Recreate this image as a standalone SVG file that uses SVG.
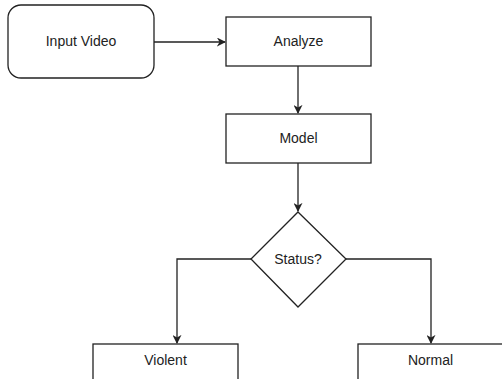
<svg xmlns="http://www.w3.org/2000/svg" width="502" height="379" viewBox="0 0 502 379">
<style>
.box{fill:#fff;stroke:#222;stroke-width:1.3}
.lbl{font-family:"Liberation Sans",Arial,sans-serif;font-size:14px;fill:#222;text-anchor:middle}
.edge{fill:none;stroke:#222;stroke-width:1.3}
</style>
<defs>
<marker id="arr" viewBox="0 0 10 10" refX="9" refY="5" markerWidth="9" markerHeight="9" markerUnits="userSpaceOnUse" orient="auto">
<path d="M0,0 L10,5 L0,10 L3,5 Z" fill="#222"/>
</marker>
</defs>
<rect width="502" height="379" fill="#fff"/>
<g id="connectors">
<path class="edge" d="M154,42 H225" marker-end="url(#arr)"/>
<path class="edge" d="M298,66 V113" marker-end="url(#arr)"/>
<path class="edge" d="M298,163 V211" marker-end="url(#arr)"/>
<path class="edge" d="M251,259 H177 V343" marker-end="url(#arr)"/>
<path class="edge" d="M346,259 H431 V343" marker-end="url(#arr)"/>
</g>
<g id="input-video">
<rect class="box" x="8" y="5" width="146" height="73" rx="13"/>
<text class="lbl" x="81" y="46">Input Video</text>
</g>
<g id="analyze">
<rect class="box" x="226" y="17" width="145" height="49"/>
<text class="lbl" x="298.5" y="46">Analyze</text>
</g>
<g id="model">
<rect class="box" x="226" y="114" width="145" height="49"/>
<text class="lbl" x="298.5" y="143">Model</text>
</g>
<g id="status">
<polygon class="box" points="298,212 346,259 298,307 251,259"/>
<text class="lbl" x="298" y="264">Status?</text>
</g>
<g id="violent">
<rect class="box" x="93" y="344" width="145" height="49"/>
<text class="lbl" x="165.5" y="365">Violent</text>
</g>
<g id="normal">
<rect class="box" x="358" y="344" width="145" height="49"/>
<text class="lbl" x="430.5" y="365">Normal</text>
</g>
</svg>
